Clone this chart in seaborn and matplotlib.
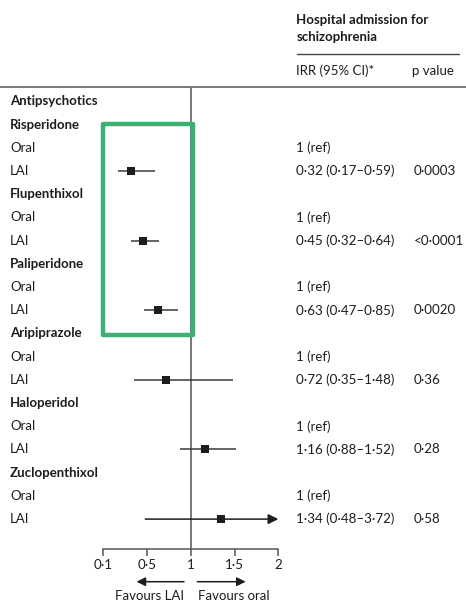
import numpy as np
import pandas as pd
import matplotlib
matplotlib.use("Agg")
import matplotlib.pyplot as plt
import matplotlib.transforms as mtransforms
from matplotlib.lines import Line2D
from matplotlib.patches import Rectangle
import seaborn as sns

# ---- data ----
drugs = ["Risperidone", "Flupenthixol", "Paliperidone",
         "Aripiprazole", "Haloperidol", "Zuclopenthixol"]
irr = [0.32, 0.45, 0.63, 0.72, 1.16, 1.34]
ci_low = [0.17, 0.32, 0.47, 0.35, 0.88, 0.48]
ci_high = [0.59, 0.64, 0.85, 1.48, 1.52, 3.72]
p_values = ["0·0003", "<0·0001", "0·0020", "0·36", "0·28", "0·58"]
tick_values = [0, 0.5, 1, 1.5, 2]
tick_labels = ["0·1", "0·5", "1", "1·5", "2"]
highlighted = ["Risperidone", "Flupenthixol", "Paliperidone"]

sns.set_theme(style="white")
plt.rcParams["font.family"] = ["Lato", "DejaVu Sans"]

INK = "#1e1c1d"
GREY = "#6d6e71"
GREEN = "#3bb273"
FS = 9.5       # words
FS_NUM = 9.6   # figures

W, H = 466, 603
fig = plt.figure(figsize=(W / 100, H / 100), dpi=100)


def fx(px):
    return px / W


def fy(py):
    return 1 - py / H


row0, step = 101.5, 23.2
top_px, axis_px = 87, 549
x0_px, x2_px = 103.3, 278.3

ax = fig.add_axes([fx(x0_px), fy(axis_px), fx(x2_px) - fx(x0_px), fy(top_px) - fy(axis_px)])
ax.set_xlim(0, 2)
ax.set_ylim((axis_px - row0) / step, (top_px - row0) / step)
ax.set_facecolor("none")

# rows: heading, then name / Oral / LAI for each drug
labels, bold = ["Antipsychotics"], [True]
for d in drugs:
    labels += [d, "Oral", "LAI"]
    bold += [True, False, False]
name_rows = np.arange(len(drugs)) * 3 + 1
oral_rows = name_rows + 1
lai_rows = name_rows + 2

df = pd.DataFrame({"drug": drugs, "irr": irr, "lo": ci_low, "hi": ci_high,
                   "p": p_values, "row": lai_rows})


def fmt(v):
    return f"{v:.2f}".replace(".", "·")


# reference line at IRR = 1
ax.axvline(1, color=GREY, lw=1.3, zorder=1)

# confidence intervals (arrow where the upper limit runs off the scale)
xmax = tick_values[-1]
for _, r in df.iterrows():
    if r.hi > xmax:
        ax.annotate("", xy=(xmax, r.row), xytext=(r.lo, r.row),
                    arrowprops=dict(arrowstyle="-|>", mutation_scale=15,
                                    color=INK, lw=1.1, shrinkA=0, shrinkB=0),
                    zorder=2)
    else:
        ax.hlines(r.row, r.lo, r.hi, color="#3a3a3a", lw=1.1, zorder=2)

sns.scatterplot(data=df, x="irr", y="row", marker="s", s=30, color=INK,
                edgecolor=INK, linewidth=0, ax=ax, zorder=3, legend=False)
ax.set_xlabel("")
ax.set_ylabel("")

# axis styling
for side in ["top", "left", "right"]:
    ax.spines[side].set_visible(False)
ax.spines["bottom"].set_color("#555555")
ax.spines["bottom"].set_linewidth(1.1)
ax.set_xticks(tick_values)
ax.set_xticklabels(tick_labels, fontsize=FS_NUM, color=INK)
ax.set_yticks([])
ax.tick_params(axis="x", direction="out", length=5, width=1.1, color="#555555", pad=2,
               bottom=True)

# highlight box around the three agents with significant reductions
hl_rows = df.loc[df.drug.isin(highlighted), "row"]
box = Rectangle((0, hl_rows.min() - 2.05), 1.025, (hl_rows.max() - hl_rows.min()) + 2.05 + 1.05,
                fill=False, edgecolor=GREEN, lw=3.2, joinstyle="round", zorder=4,
                clip_on=False)
ax.add_patch(box)

# row labels and result columns
tr_rows = mtransforms.blended_transform_factory(fig.transFigure, ax.transData)
for i, (lab, b) in enumerate(zip(labels, bold)):
    ax.text(fx(10), i, lab, transform=tr_rows, fontsize=FS, color=INK,
            fontweight="bold" if b else "normal", va="center", ha="left", clip_on=False)
for r in oral_rows:
    ax.text(fx(295.5), r, "1 (ref)", transform=tr_rows, fontsize=FS, color=INK,
            va="center", ha="left", clip_on=False)
for _, r in df.iterrows():
    ax.text(fx(295.5), r.row, f"{fmt(r.irr)} ({fmt(r.lo)}–{fmt(r.hi)})", transform=tr_rows,
            fontsize=FS_NUM, color=INK, va="center", ha="left", clip_on=False)
    ax.text(fx(413.5), r.row, r.p, transform=tr_rows, fontsize=FS_NUM, color=INK,
            va="center", ha="left", clip_on=False)

# column headers and rules
fig.text(fx(296.5), fy(20), "Hospital admission for", fontsize=FS, fontweight="bold",
         color=INK, va="center", ha="left")
fig.text(fx(296.5), fy(37), "schizophrenia", fontsize=FS, fontweight="bold",
         color=INK, va="center", ha="left")
fig.add_artist(Line2D([fx(296.5), fx(459)], [fy(54), fy(54)], color="#444444", lw=1.0))
fig.text(fx(296.5), fy(71), "IRR (95% CI)*", fontsize=FS, color=INK, va="center", ha="left")
fig.text(fx(412), fy(71), "p value", fontsize=FS, color=INK, va="center", ha="left")
fig.add_artist(Line2D([0.0, 1.0], [fy(top_px), fy(top_px)], color=GREY, lw=1.3))

# direction arrows under the axis
tr_dir = mtransforms.blended_transform_factory(ax.transData, fig.transFigure)
ax.annotate("", xy=(0.38, fy(581.7)), xytext=(0.922, fy(581.7)), xycoords=tr_dir,
            textcoords=tr_dir, arrowprops=dict(arrowstyle="-|>", mutation_scale=13,
                                               color=INK, lw=1.1, shrinkA=0, shrinkB=0),
            annotation_clip=False)
ax.annotate("", xy=(1.627, fy(581.7)), xytext=(1.074, fy(581.7)), xycoords=tr_dir,
            textcoords=tr_dir, arrowprops=dict(arrowstyle="-|>", mutation_scale=13,
                                               color=INK, lw=1.1, shrinkA=0, shrinkB=0),
            annotation_clip=False)
ax.text(0.922, fy(596), "Favours LAI", transform=tr_dir, fontsize=FS, color=INK,
        ha="right", va="center", clip_on=False)
ax.text(1.079, fy(596), "Favours oral", transform=tr_dir, fontsize=FS, color=INK,
        ha="left", va="center", clip_on=False)

fig.savefig("out.png", dpi=100, facecolor="white")
